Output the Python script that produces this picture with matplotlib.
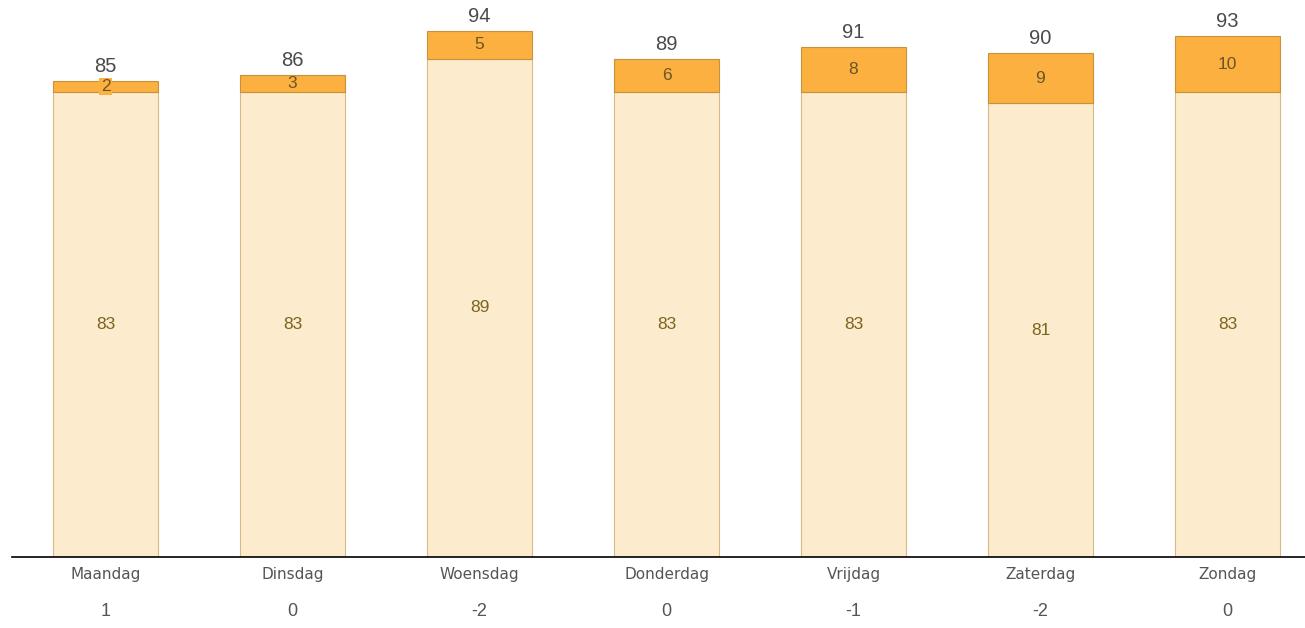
import matplotlib
matplotlib.use("Agg")
import matplotlib.pyplot as plt

days = ["Maandag", "Dinsdag", "Woensdag", "Donderdag", "Vrijdag", "Zaterdag", "Zondag"]
base = [83, 83, 89, 83, 83, 81, 83]
extra = [2, 3, 5, 6, 8, 9, 10]
totals = [85, 86, 94, 89, 91, 90, 93]
diffs = ["1", "0", "-2", "0", "-1", "-2", "0"]

W, H = 1305, 628
fig = plt.figure(figsize=(W / 100, H / 100), dpi=100)
ax = fig.add_axes([12 / W, (H - 557) / H, (W - 12) / W, 557 / H])

x = list(range(len(days)))
bw = 105 / 187
light = "#FDEBCD"
dark = "#FBB040"
ax.bar(x, base, width=bw, color=light, edgecolor="#D8B98A", linewidth=0.8)
ax.bar(x, extra, bottom=base, width=bw, color=dark, edgecolor="#C8923A", linewidth=0.8)

for i in x:
    ax.text(i, base[i] / 2, str(base[i]), ha="center", va="center",
            fontsize=12.5, color="#7A6420", family="Liberation Sans")
    t = ax.text(i, base[i] + extra[i] / 2, str(extra[i]), ha="center", va="center",
                fontsize=12.5, color="#6B5526", family="Liberation Sans")
    if extra[i] <= 2:
        t.set_bbox(dict(facecolor=dark, edgecolor="none", pad=1.0))
    ax.text(i, totals[i] + 0.9, str(totals[i]), ha="center", va="bottom",
            fontsize=14.5, color="#4A4A4A", family="Liberation Sans")

ax.set_xlim(-0.5, (W - 105.5) / 187)
ax.set_ylim(0, 557 / 5.6)
ax.set_yticks([])
ax.set_xticks(x)
ax.set_xticklabels([])
ax.tick_params(axis="x", length=0)
for s in ["top", "right", "left"]:
    ax.spines[s].set_visible(False)
ax.spines["bottom"].set_color("#000000")
ax.spines["bottom"].set_linewidth(1.2)

for i in x:
    ax.text(i, -17 / 5.6, days[i], ha="center", va="center", fontsize=11,
            color="#555555", family="Liberation Sans Narrow", clip_on=False)
    ax.text(i, -54 / 5.6, diffs[i], ha="center", va="center", fontsize=13,
            color="#555555", family="Liberation Sans", clip_on=False)

fig.savefig("out.png", dpi=100)
